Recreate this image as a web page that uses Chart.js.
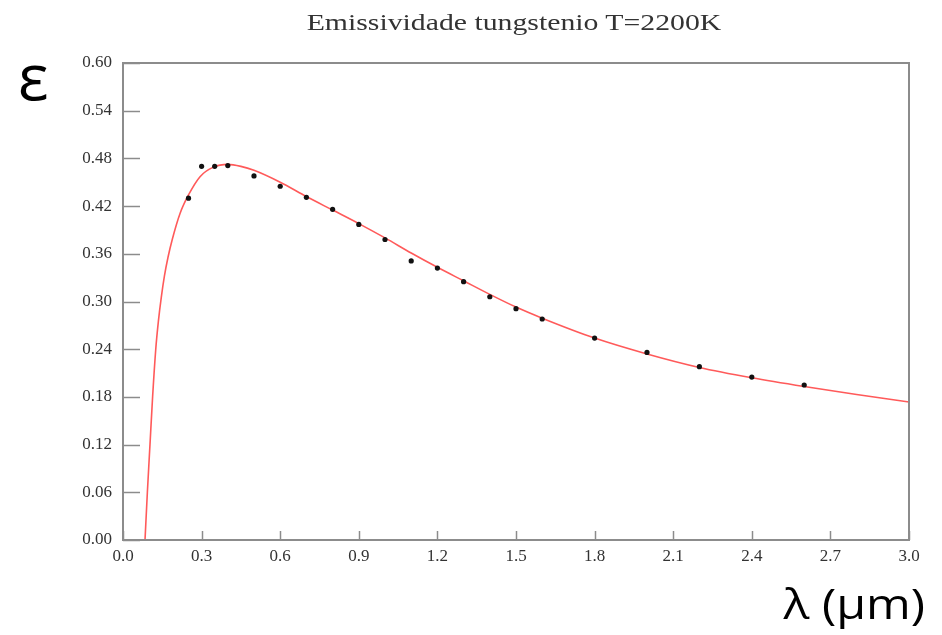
<!DOCTYPE html>
<html>
<head>
<meta charset="utf-8">
<script src="https://cdn.jsdelivr.net/npm/chart.js@4/dist/chart.umd.min.js"></script>
<style>
  html, body { margin: 0; padding: 0; background: #fff; }
  #wrap { position: relative; width: 942px; height: 635px; }
  #title { position: absolute; left: 514px; top: 10px; font-family: "Liberation Serif", serif; font-size: 24px; line-height: 1; color: #333; white-space: nowrap; transform: translateX(-50%) scaleX(1.24); }
  #ylab { position: absolute; left: 18px; top: 44px; font-family: "Open Sans", sans-serif; font-size: 64px; color: #000; line-height: 1; }
  #xlab { position: absolute; right: 17px; top: 582px; font-family: "Open Sans", sans-serif; font-size: 42px; color: #000; line-height: 1; white-space: nowrap; transform: scaleX(1.15); transform-origin: right center; }
</style>
</head>
<body>
<div id="wrap">
  <canvas id="c" width="942" height="635"></canvas>
  <div id="title">Emissividade tungstenio T=2200K</div>
  <div id="ylab">ε</div>
  <div id="xlab">λ (μm)</div>
</div>
<script>
// Measured data points (wavelength in µm, emissivity)
const pointX = [0.25, 0.30, 0.35, 0.40, 0.50, 0.60, 0.70, 0.80, 0.90, 1.00, 1.10, 1.20, 1.30, 1.40, 1.50, 1.60, 1.80, 2.00, 2.20, 2.40, 2.60];
const pointY = [0.430, 0.470, 0.470, 0.471, 0.458, 0.445, 0.431, 0.416, 0.397, 0.378, 0.351, 0.342, 0.325, 0.306, 0.291, 0.278, 0.254, 0.236, 0.218, 0.205, 0.195];

// Fitted curve
const curveX = [0.084, 0.093, 0.103, 0.113, 0.125, 0.135, 0.146, 0.158, 0.172, 0.188, 0.218, 0.250, 0.294, 0.345, 0.400, 0.450, 0.500, 0.600, 0.700, 0.800, 0.900, 1.000, 1.100, 1.200, 1.300, 1.400, 1.500, 1.600, 1.800, 2.000, 2.200, 2.400, 2.600, 2.800, 3.000];
const curveY = [0.000, 0.060, 0.120, 0.180, 0.240, 0.275, 0.305, 0.332, 0.356, 0.378, 0.411, 0.434, 0.457, 0.469, 0.4725, 0.470, 0.465, 0.450, 0.432, 0.415, 0.398, 0.380, 0.361, 0.343, 0.326, 0.309, 0.293, 0.279, 0.254, 0.234, 0.217, 0.204, 0.193, 0.183, 0.1736];

// Axis tick settings
const xMin = 0, xMax = 3.0, xStep = 0.3;
const yMin = 0, yMax = 0.60, yStep = 0.06;

const curveData = curveX.map((x, i) => ({ x: x, y: curveY[i] }));
const pointData = pointX.map((x, i) => ({ x: x, y: pointY[i] }));

const AXIS_COLOR = '#8c8c8c';

const framePlugin = {
  id: 'frameTicks',
  afterDraw(chart) {
    const ctx = chart.ctx;
    const a = chart.chartArea;
    const xs = chart.scales.x, ys = chart.scales.y;
    ctx.save();
    ctx.strokeStyle = AXIS_COLOR;
    ctx.lineWidth = 2;
    ctx.strokeRect(a.left, a.top, a.right - a.left, a.bottom - a.top);
    ctx.lineWidth = 1.5;
    ys.ticks.forEach(t => {
      const py = Math.round(ys.getPixelForValue(t.value)) + 0.5;
      ctx.beginPath(); ctx.moveTo(a.left, py); ctx.lineTo(a.left + 17, py); ctx.stroke();
    });
    xs.ticks.forEach(t => {
      const px = Math.round(xs.getPixelForValue(t.value)) + 0.5;
      ctx.beginPath(); ctx.moveTo(px, a.bottom); ctx.lineTo(px, a.bottom - 9); ctx.stroke();
    });
    ctx.restore();
  }
};

new Chart(document.getElementById('c'), {
  type: 'scatter',
  data: {
    datasets: [
      {
        label: 'ajuste',
        data: curveData,
        showLine: true,
        borderColor: '#ff5a5a',
        borderWidth: 1.6,
        pointRadius: 0,
        cubicInterpolationMode: 'monotone',
        fill: false,
        order: 2
      },
      {
        label: 'dados',
        data: pointData,
        showLine: false,
        backgroundColor: '#111',
        borderColor: '#111',
        pointRadius: 2.6,
        pointBorderWidth: 0,
        order: 1
      }
    ]
  },
  options: {
    responsive: false,
    devicePixelRatio: 1,
    animation: false,
    layout: { padding: { top: 63, right: 33, bottom: 55, left: 0 } },
    plugins: { legend: { display: false }, tooltip: { enabled: false }, title: { display: false } },
    scales: {
      x: {
        type: 'linear', min: xMin, max: xMax,
        grid: { display: false, drawTicks: false },
        border: { display: false },
        ticks: {
          stepSize: xStep, padding: 6,
          color: '#333',
          font: { family: 'Liberation Serif', size: 17 },
          callback: v => Number(v).toFixed(1),
          maxRotation: 0
        },
        afterFit(s) { s.height = 40; }
      },
      y: {
        type: 'linear', min: yMin, max: yMax,
        grid: { display: false, drawTicks: false },
        border: { display: false },
        ticks: {
          stepSize: yStep, padding: 11,
          color: '#333',
          font: { family: 'Liberation Serif', size: 17 },
          callback: v => Number(v).toFixed(2)
        },
        afterFit(s) { s.width = 123; }
      }
    }
  },
  plugins: [framePlugin]
});
</script>
</body>
</html>
